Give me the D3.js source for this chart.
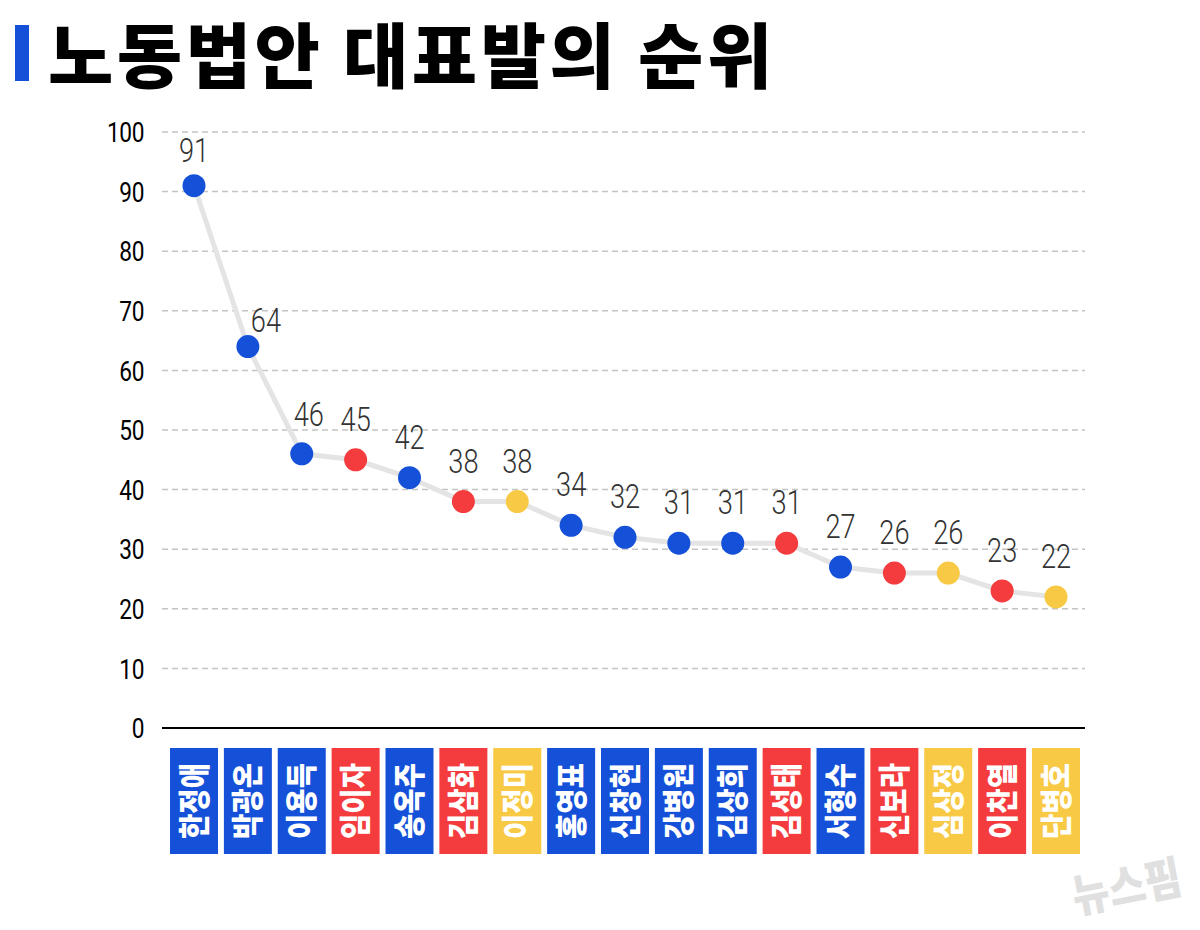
<!DOCTYPE html>
<html><head><meta charset="utf-8">
<script src="https://cdn.jsdelivr.net/npm/d3@7"></script>
<style>
html,body{margin:0;padding:0;background:#fff;}
svg{display:block;}
</style></head>
<body>
<svg id="chart" width="1200" height="930"></svg>
<script>
const title = "노동법안 대표발의 순위";
const names = ["한정애","박광온","이용득","임이자","송옥주","김삼화","이정미","홍영표","신창현","강병원","김상희","김성태","서형수","신보라","심상정","이찬열","단병호"];
const values = [91,64,46,45,42,38,38,34,32,31,31,31,27,26,26,23,22];
const parties = ["blue","blue","blue","red","blue","red","yellow","blue","blue","blue","blue","red","blue","red","yellow","red","yellow"];
const yTicks = [0,10,20,30,40,50,60,70,80,90,100];
const watermark = "뉴스핌";

const partyColor = {blue:"#1550d8", red:"#f43b3e", yellow:"#f8c945"};
const svg = d3.select("#chart");

const x = d3.scalePoint().domain(names).range([194,1056]);
const y = d3.scaleLinear().domain([0,100]).range([728,132]);

// title
svg.append("rect").attr("x",15).attr("y",25).attr("width",14).attr("height",56).attr("fill","#1550d8");
svg.append("text").attr("x",48).attr("y",82).text(title)
  .attr("font-family","'Noto Sans CJK KR'").attr("font-weight",900).attr("font-size",71)
  .attr("letter-spacing",3.5).attr("fill","#000");

// grid
svg.append("g").selectAll("line").data(yTicks.filter(d=>d>0)).join("line")
  .attr("x1",162).attr("x2",1085).attr("y1",d=>y(d)).attr("y2",d=>y(d))
  .attr("stroke","#c4c4c4").attr("stroke-width",1.5).attr("stroke-dasharray","6,4");
// zero line
svg.append("line").attr("x1",162).attr("x2",1085).attr("y1",y(0)).attr("y2",y(0))
  .attr("stroke","#000").attr("stroke-width",2);

// y axis
const yAxis = d3.axisLeft(y).tickValues(yTicks).tickSize(0).tickPadding(0);
const ga = svg.append("g").attr("transform","translate(144,0)").call(yAxis);
ga.select(".domain").remove();
ga.selectAll("text").attr("font-family","Roboto, 'Liberation Sans', sans-serif").attr("font-size",27)
  .attr("font-weight",400)
  .attr("fill","#000").attr("dy","0.36em").attr("transform","scale(0.84,1)").attr("letter-spacing",-0.5);

// line
svg.append("path").datum(values)
  .attr("d", d3.line().x((d,i)=>x(names[i])).y(d=>y(d)))
  .attr("fill","none").attr("stroke","#e4e4e4").attr("stroke-width",5);

// dots
svg.append("g").selectAll("circle").data(values).join("circle")
  .attr("cx",(d,i)=>x(names[i])).attr("cy",d=>y(d)).attr("r",11.5)
  .attr("fill",(d,i)=>partyColor[parties[i]]);

// value labels
function shift(i){
  if(i===0) return [0,-24];
  const drop = y(values[i]) - y(values[i-1]);
  if(drop>120) return [18,-15];
  if(drop>80) return [7,-28];
  return [0,-29];
}
svg.append("g").selectAll("text").data(values).join("text")
  .attr("transform",(d,i)=>`translate(${x(names[i])+shift(i)[0]},${y(d)+shift(i)[1]}) scale(0.8,1)`)
  .attr("text-anchor","middle").text(d=>d)
  .attr("font-family","Roboto, 'Liberation Sans', sans-serif").attr("font-size",34)
  .attr("font-weight",300)
  .attr("fill","#333");

// name boxes
const boxes = svg.append("g").selectAll("g").data(names).join("g")
  .attr("transform",d=>`translate(${x(d)},0)`);
boxes.append("rect").attr("x",-24).attr("y",748).attr("width",48).attr("height",106)
  .attr("fill",(d,i)=>partyColor[parties[i]]);
boxes.append("text").text(d=>d)
  .attr("transform","translate(0,801) rotate(-90) scale(0.86,1)")
  .attr("text-anchor","middle").attr("dy","0.36em")
  .attr("font-family","'Noto Sans CJK KR'").attr("font-weight",900).attr("font-size",32)
  .attr("fill","#fff");

// watermark
svg.append("text").text(watermark)
  .attr("transform","translate(1130,903) rotate(-11) scale(1,1.15)")
  .attr("text-anchor","middle")
  .attr("font-family","'Noto Sans CJK KR'").attr("font-weight",900).attr("font-size",40)
  .attr("fill","#e0e0e0");
</script>
</body></html>
